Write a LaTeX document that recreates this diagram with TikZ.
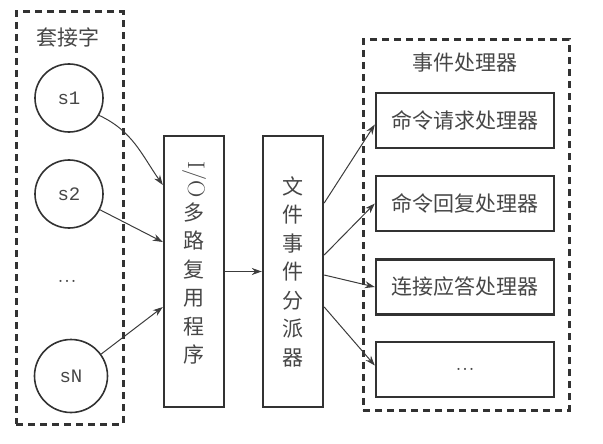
\documentclass[tikz,border=0pt]{standalone}
\usepackage{fontspec}
\setmonofont{Liberation Mono}
\newfontfamily\cjk{Noto Sans CJK SC}
\usetikzlibrary{positioning}
\usetikzlibrary{arrows.meta}
\definecolor{linecol}{RGB}{50,50,50}
\definecolor{textcol}{RGB}{70,70,70}
\definecolor{arrowcol}{RGB}{60,60,60}

\begin{document}
\begin{tikzpicture}[x=1pt, y=-1pt, >={Stealth[length=10pt,width=7pt]},
    group/.style={rectangle, draw=linecol, line width=3pt, dash pattern=on 7pt off 5pt},
    sock/.style={circle, draw=linecol, line width=1.6pt, minimum size=68pt, text=textcol, font=\ttfamily\fontsize{19}{22}\selectfont},
    tall/.style={rectangle, draw=linecol, line width=2.4pt, minimum width=60pt, minimum height=271pt, align=center, text=textcol, font=\cjk\fontsize{21}{28.5}\selectfont},
    handler/.style={rectangle, draw=linecol, line width=2.4pt, minimum width=178pt, minimum height=55pt, text=textcol, font=\cjk\fontsize{21}{24}\selectfont},
    title/.style={text=textcol, font=\cjk\fontsize{21}{24}\selectfont},
    dots/.style={text=textcol, font=\rmfamily\fontsize{26}{28}\selectfont},
    link/.style={->, draw=arrowcol, line width=1pt}]
    \useasboundingbox (0,0) rectangle (603,444);

    % Sockets
    \node[group, minimum width=107pt, minimum height=412pt] (sockets) at (69.5,218) {};
    \node[title] (socktitle) at (68,37) {套接字};
    \node[sock] (s1) at (69,98) {s1};
    \node[sock] (s2) at (69,194) {s2};
    \node[dots] (sdots) at (67,281) {...};
    \node[sock, minimum size=73pt] (sN) at (71,376) {sN};

    % Multiplexer and dispatcher
    \node[tall] (io) at (194,271.5) {\rotatebox{-90}{\rmfamily\fontsize{24}{26}\selectfont I/O}\\[4pt]多\\路\\复\\用\\程\\序\\[-10pt]\mbox{}};
    \node[tall] (disp) at (293,271.5) {文\\件\\事\\件\\分\\派\\器};

    % Event handlers
    \node[group, minimum width=206pt, minimum height=370pt] (handlers) at (466,225) {};
    \node[title] (handtitle) at (465,63) {事件处理器};
    \node[handler] (h1) at (465,120.5) {命令请求处理器};
    \node[handler] (h2) at (465,203.5) {命令回复处理器};
    \node[handler] (h3) at (465,287) {连接应答处理器};
    \node[handler, dots] (h4) at (465,369.5) {...};

    % Connectors
    \draw[link] (s1.-30) to[out=-25, in=125] ([yshift=86.5pt]io.west);
    \draw[link] (s2.-27) -- ([yshift=29.5pt]io.west);
    \draw[link] (sN.36) -- ([yshift=-35.5pt]io.west);
    \draw[link] (io) -- (disp);
    \draw[link] ([yshift=68.5pt]disp.east) -- ([yshift=-4pt]h1.west);
    \draw[link] ([yshift=16.5pt]disp.east) -- (h2.west);
    \draw[link] ([yshift=-3.5pt]disp.east) -- (h3.west);
    \draw[link] ([yshift=-35.5pt]disp.east) -- ([yshift=4pt]h4.west);
\end{tikzpicture}
\end{document}
